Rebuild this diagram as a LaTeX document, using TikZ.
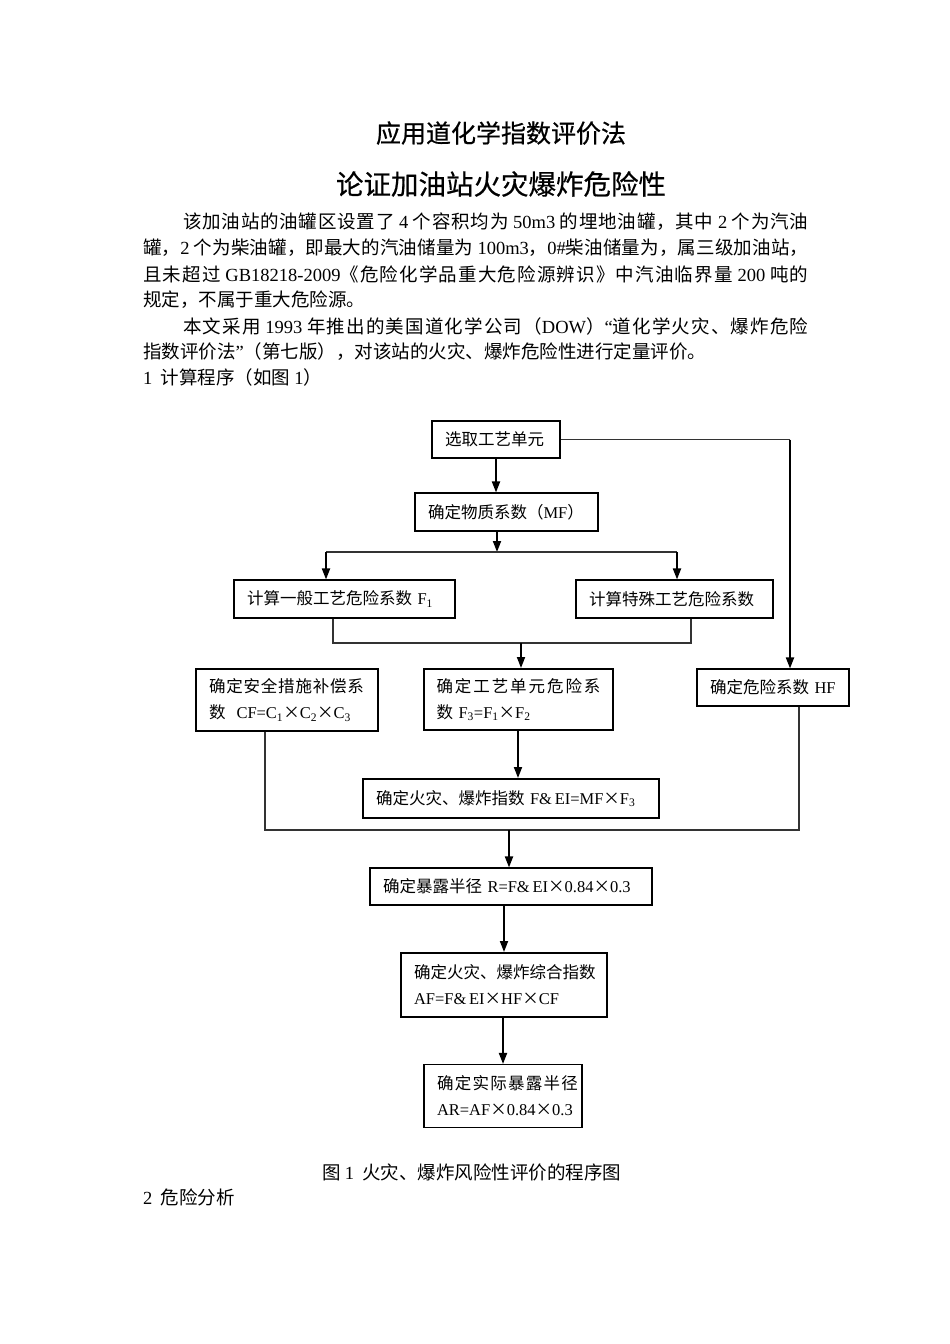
\documentclass[tikz,border=0pt]{standalone}
\usepackage{fontspec}
\setmainfont{Noto Sans CJK SC}
\newfontfamily\lat{Liberation Serif}
\newfontfamily\ttl[FakeBold=0.6]{Noto Sans CJK SC}
\usetikzlibrary{arrows.meta}
\newcommand\E[1]{{\lat #1}}
\newcount\mycnt
\mycnt="3400 \loop \XeTeXcharclass\mycnt=77 \advance\mycnt by 1 \ifnum\mycnt<"A000 \repeat
\mycnt="3000 \loop \XeTeXcharclass\mycnt=77 \advance\mycnt by 1 \ifnum\mycnt<"3040 \repeat
\mycnt="FF00 \loop \XeTeXcharclass\mycnt=77 \advance\mycnt by 1 \ifnum\mycnt<"FFF0 \repeat
\XeTeXinterchartoks 77 77 = {\hskip0pt plus 4pt minus 0.6pt\relax}
\newcommand\jline[2]{{\XeTeXinterchartokenstate=1 \makebox[#1][s]{#2}}}
\hfuzz=50pt \hbadness=10000
\tikzset{
  body/.style={anchor=west, inner sep=0pt, font=\fontsize{18.5}{26}\selectfont},
  box/.style={draw, line width=1.1pt, inner xsep=13pt, inner ysep=0pt, align=left,
    font=\fontsize{16.5}{26}\selectfont},
  tbox/.style={box, line width=2pt},
  arr/.style={line width=1.8pt, -{Triangle[length=11pt,width=8pt]}},
  conn/.style={line width=1.3pt, draw=black!80}
}
\begin{document}
\begin{tikzpicture}[x=1pt,y=-1pt]
\fill[white] (0,0) rectangle (950,1344);
\useasboundingbox (0,0) rectangle (950,1344);
% titles
\node[inner sep=0pt, font=\ttl\fontsize{25}{30}\selectfont] (t1) at (501,133) {应用道化学指数评价法};
\node[inner sep=0pt, font=\ttl\fontsize{27.5}{32}\selectfont] (t2) at (501,184) {论证加油站火灾爆炸危险性};
% paragraph
\node[body] (p1) at (183,222) {\jline{625pt}{该加油站的油罐区设置了 \E{4} 个容积均为 \E{50m3} 的埋地油罐，其中 \E{2} 个为汽油}};
\node[body] (p2) at (143,248) {\jline{665pt}{罐，\E{2} 个为柴油罐，即最大的汽油储量为 \E{100m3}，\E{0\#}柴油储量为，属三级加油站，}};
\node[body] (p3) at (143,274) {\jline{665pt}{且未超过 \E{GB18218-2009}《危险化学品重大危险源辨识》中汽油临界量 \E{200} 吨的}};
\node[body] (p4) at (143,300) {规定，不属于重大危险源。};
\node[body] (p5) at (183,326) {\jline{625pt}{本文采用 \E{1993} 年推出的美国道化学公司（\E{DOW}）\E{“}道化学火灾、爆炸危险}};
\node[body] (p6) at (143,352) {指数评价法\E{”}（第七版），对该站的火灾、爆炸危险性进行定量评价。};
\node[body] (p7) at (143,377) {\E{1}\ \ 计算程序（如图 \E{1}）};
% flowchart boxes
\node[box, minimum height=37pt, text width=102pt] (A) at (496,439.5) {\mbox{选取工艺单元}};
\node[box, minimum height=38pt, text width=157pt] (B) at (506.5,512) {\mbox{确定物质系数（\E{MF}）}};
\node[box, minimum height=38pt, text width=195pt] (C) at (344.5,599) {\mbox{计算一般工艺危险系数 \E{F\textsubscript{1}}}};
\node[box, minimum height=38pt, text width=171pt] (D) at (674.5,599) {\mbox{计算特殊工艺危险系数}};
\node[box, minimum height=62pt, text width=156pt] (E) at (287,700) {\jline{155pt}{确定安全措施补偿系}\\\mbox{数 \E{ CF=C\textsubscript{1}}×\E{C\textsubscript{2}}×\E{C\textsubscript{3}}}};
\node[tbox, minimum height=61pt, text width=163pt] (F) at (518,699.5) {\jline{164pt}{确定工艺单元危险系}\\\mbox{数 \E{F\textsubscript{3}=F\textsubscript{1}}×\E{F\textsubscript{2}}}};
\node[box, minimum height=37pt, text width=126pt] (G) at (773,687.5) {\mbox{确定危险系数 \E{HF}}};
\node[tbox, minimum height=39pt, text width=270pt] (H) at (511,798.5) {\mbox{确定火灾、爆炸指数 \E{F\&\,EI=MF}×\E{F\textsubscript{3}}}};
\node[box, minimum height=37pt, text width=256pt] (I) at (511,886.5) {\mbox{确定暴露半径 \E{R=F\&\,EI}×\E{0.84}×\E{0.3}}};
\node[tbox, minimum height=64pt, text width=180pt] (J) at (504,985) {\mbox{确定火灾、爆炸综合指数}\\\mbox{\E{AF=F\&\,EI}×\E{HF}×\E{CF}}};
\node[box, minimum height=63pt, text width=132pt] (K) at (503,1096) {\jline{141pt}{确定实际暴露半径}\\\mbox{\E{AR=AF}×\E{0.84}×\E{0.3}}};
% caption
\node[body] (cap) at (322,1172) {图 \E{1}\ \ 火灾、爆炸风险性评价的程序图};
\node[body] (sec2) at (143,1197) {\E{2}\ \ 危险分析};
% junction coordinates
\coordinate (j1) at (497,552);
\coordinate (jl) at (326,552);
\coordinate (jr) at (677,552);
\coordinate (m1) at (333,643);
\coordinate (m2) at (691,643);
\coordinate (m3) at (521,643);
\coordinate (r1) at (790,439.5);
\coordinate (b1) at (265,830);
\coordinate (b2) at (799,830);
\coordinate (b3) at (509,830);
% connectors
\draw[arr] (A.south) -- (A.south |- B.north);
\draw[arr] (B.south -| j1) -- (j1);
\draw[conn] (jl) -- (jr);
\draw[arr] (jl) -- (jl |- C.north);
\draw[arr] (jr) -- (jr |- D.north);
\draw[conn] (C.south -| m1) -- (m1) -- (m2) -- (D.south -| m2);
\draw[arr] (m3) -- (m3 |- F.north);
\draw[conn] (A.east) -- (r1);
\draw[arr] (r1) -- (r1 |- G.north);
\draw[arr] (F.south) -- (F.south |- H.north);
\draw[conn] (E.south -| b1) -- (b1) -- (b2) -- (G.south -| b2);
\draw[arr] (b3) -- (b3 |- I.north);
\draw[arr] (J.north |- I.south) -- (J.north);
\draw[arr] (K.north |- J.south) -- (K.north);
\end{tikzpicture}
\end{document}
